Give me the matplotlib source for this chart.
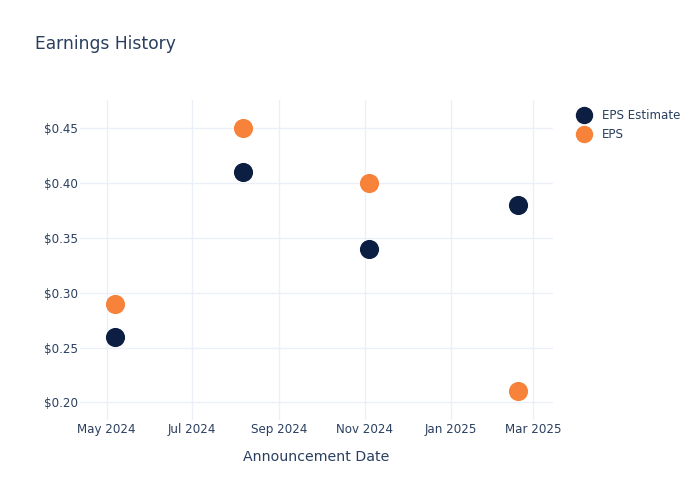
import numpy as np
import pandas as pd
import matplotlib
matplotlib.use("Agg")
import matplotlib.pyplot as plt
import matplotlib.dates as mdates
from matplotlib.ticker import FuncFormatter
from matplotlib.lines import Line2D

# Data
dates = pd.to_datetime(["2024-05-07", "2024-08-06", "2024-11-04", "2025-02-18"])
eps_estimate = [0.26, 0.41, 0.34, 0.38]
eps_actual = [0.29, 0.45, 0.40, 0.21]

navy = "#0c1f43"
orange = "#f7823a"
text_color = "#2a3f5f"
grid_color = "#ebf0f8"

plt.rcParams["font.family"] = ["DejaVu Sans"]

fig = plt.figure(figsize=(7, 5), dpi=100)
ax = fig.add_axes([80 / 700, 80 / 500, 473 / 700, 320 / 500])

marker_s = 190
ax.scatter(dates, eps_estimate, s=marker_s, color=navy, linewidths=0, zorder=3)
ax.scatter(dates, eps_actual, s=marker_s, color=orange, linewidths=0, zorder=3)

ax.set_xlim(pd.Timestamp("2024-04-12"), pd.Timestamp("2025-03-15"))
ax.set_ylim(0.1839, 0.4758)

ax.xaxis.set_major_locator(mdates.MonthLocator(bymonth=[1, 3, 5, 7, 9, 11]))
ax.xaxis.set_major_formatter(mdates.DateFormatter("%b %Y"))
ax.set_yticks([0.20, 0.25, 0.30, 0.35, 0.40, 0.45])
ax.yaxis.set_major_formatter(FuncFormatter(lambda v, p: f"${v:.2f}"))

for s in ax.spines.values():
    s.set_visible(False)
ax.grid(True, color=grid_color, linewidth=1)
ax.set_axisbelow(True)
ax.tick_params(axis="both", length=0, labelsize=8.6, labelcolor=text_color)
ax.tick_params(axis="x", pad=2)
ax.tick_params(axis="y", pad=1.5)

ax.set_xlabel("Announcement Date", fontsize=10.2, color=text_color, labelpad=10)

fig.text(35 / 700, 1 - 44 / 500, "Earnings History", fontsize=12.3,
         color=text_color, va="center", ha="left")

handles = [
    Line2D([], [], linestyle="none", marker="o", markersize=11.5, color=navy),
    Line2D([], [], linestyle="none", marker="o", markersize=11.5, color=orange),
]
leg = fig.legend(handles, ["EPS Estimate", "EPS"], loc="upper left",
                 bbox_to_anchor=(572 / 700, 1 - 104 / 500), frameon=False,
                 fontsize=8.6, handletextpad=0.9, labelspacing=0.5,
                 borderaxespad=0, handlelength=1.2)
for t in leg.get_texts():
    t.set_color(text_color)

fig.savefig("out.png", dpi=100)
